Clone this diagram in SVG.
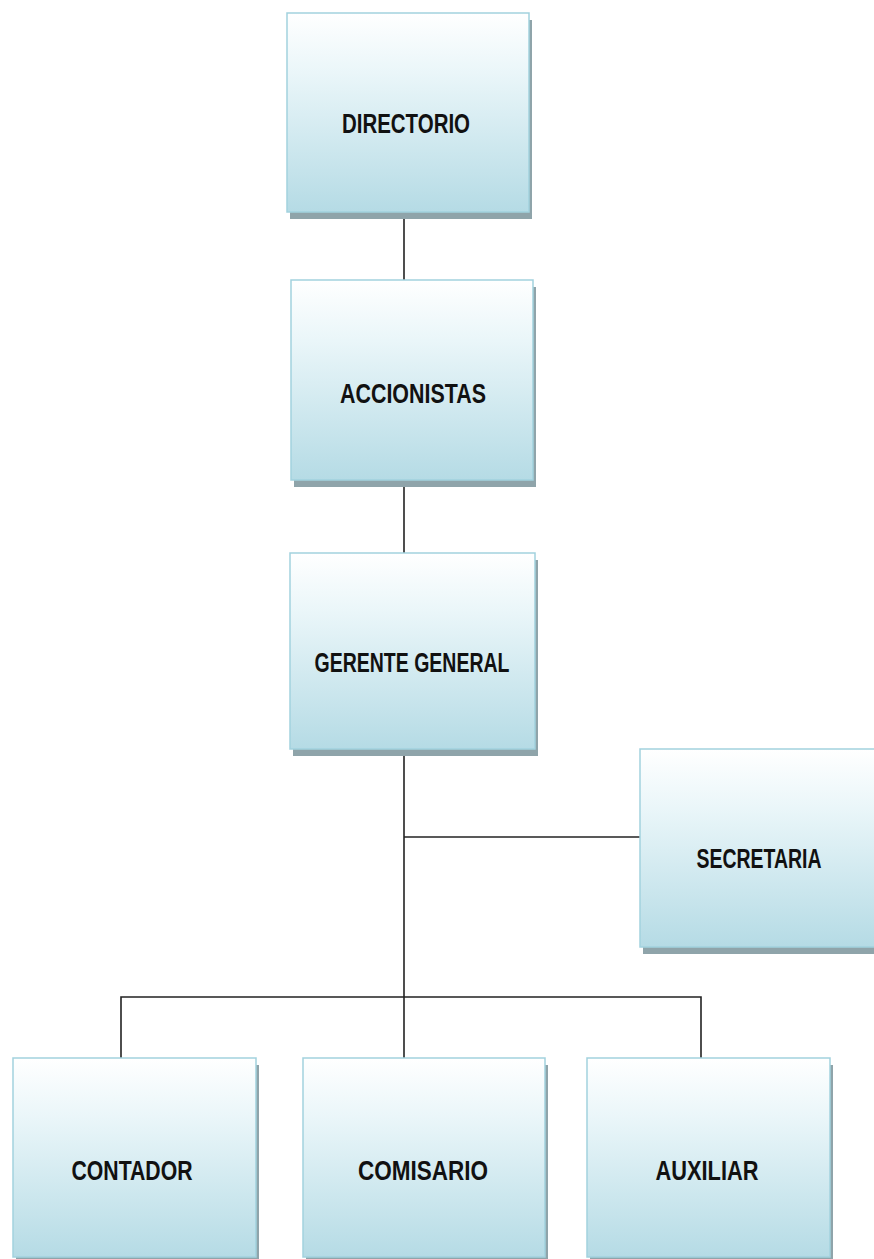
<svg xmlns="http://www.w3.org/2000/svg" width="874" height="1259" viewBox="0 0 874 1259">
<defs>
<linearGradient id="g" x1="0" y1="0" x2="0" y2="1">
<stop offset="0" stop-color="#ffffff"/>
<stop offset="0.3" stop-color="#eaf6f9"/>
<stop offset="1" stop-color="#b5dbe5"/>
</linearGradient>
<style>
.sh{fill:#8fa4aa}
.bx{fill:url(#g);stroke:#a2d2de;stroke-width:1.5}
.t{font-family:"Liberation Sans",Arial,sans-serif;font-weight:bold;font-size:27px;fill:#111;text-anchor:middle}
.c{stroke:#222;stroke-width:1.6;fill:none}
</style>
</defs>
<rect width="874" height="1259" fill="#fff"/>
<g id="connectors">
<line class="c" x1="404" y1="212" x2="404" y2="281"/>
<line class="c" x1="404" y1="480" x2="404" y2="553"/>
<line class="c" x1="404" y1="749" x2="404" y2="1058"/>
<line class="c" x1="404" y1="837" x2="641" y2="837"/>
<polyline class="c" points="121,1058 121,997 701,997 701,1058"/>
</g>
<g id="directorio">
<rect class="sh" x="290" y="20" width="242" height="199"/>
<rect class="bx" x="287" y="13" width="242" height="199"/>
<text class="t" x="406" y="133" textLength="128" lengthAdjust="spacingAndGlyphs">DIRECTORIO</text>
</g>
<g id="accionistas">
<rect class="sh" x="294" y="287" width="242" height="200"/>
<rect class="bx" x="291" y="280" width="242" height="200"/>
<text class="t" x="413" y="403" textLength="146" lengthAdjust="spacingAndGlyphs">ACCIONISTAS</text>
</g>
<g id="gerente">
<rect class="sh" x="293" y="560" width="245" height="196"/>
<rect class="bx" x="290" y="553" width="245" height="196"/>
<text class="t" x="412" y="672" textLength="195" lengthAdjust="spacingAndGlyphs">GERENTE GENERAL</text>
</g>
<g id="secretaria">
<rect class="sh" x="643" y="756" width="240" height="198"/>
<rect class="bx" x="640" y="749" width="240" height="198"/>
<text class="t" x="759" y="868" textLength="125" lengthAdjust="spacingAndGlyphs">SECRETARIA</text>
</g>
<g id="contador">
<rect class="sh" x="16" y="1065" width="243" height="199"/>
<rect class="bx" x="13" y="1058" width="243" height="199"/>
<text class="t" x="132" y="1180" textLength="121" lengthAdjust="spacingAndGlyphs">CONTADOR</text>
</g>
<g id="comisario">
<rect class="sh" x="306" y="1065" width="242" height="199"/>
<rect class="bx" x="303" y="1058" width="242" height="199"/>
<text class="t" x="423" y="1180" textLength="130" lengthAdjust="spacingAndGlyphs">COMISARIO</text>
</g>
<g id="auxiliar">
<rect class="sh" x="590" y="1065" width="243" height="199"/>
<rect class="bx" x="587" y="1058" width="243" height="199"/>
<text class="t" x="707" y="1180" textLength="103" lengthAdjust="spacingAndGlyphs">AUXILIAR</text>
</g>
</svg>
